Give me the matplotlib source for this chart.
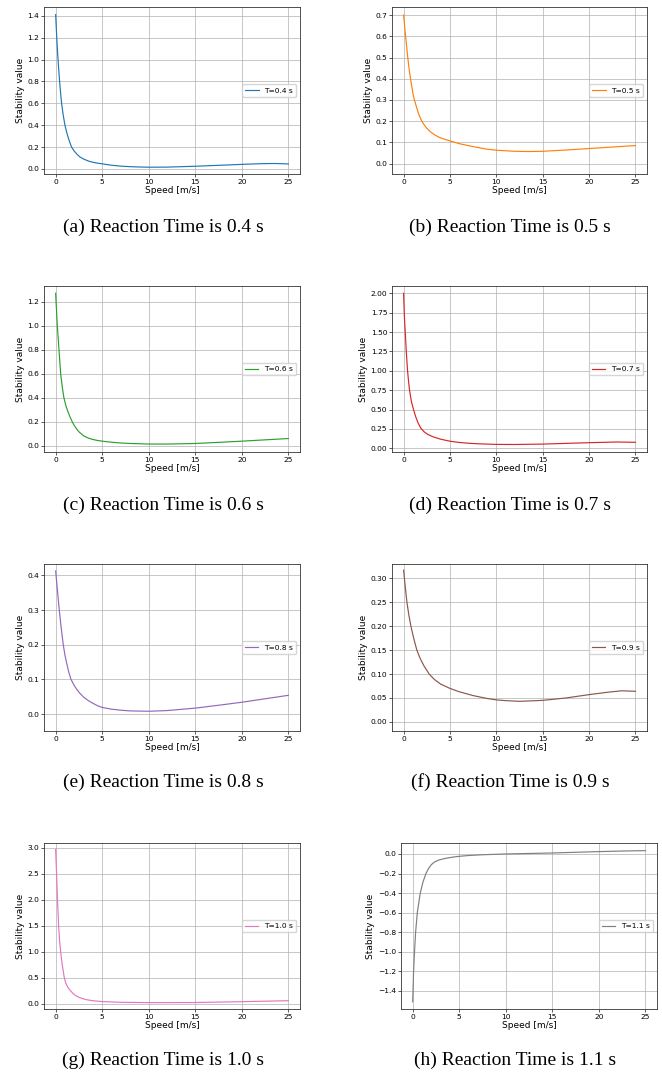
import matplotlib
matplotlib.use('Agg')
import matplotlib.pyplot as plt
import numpy as np

# speed [m/s] and stability values
speed_a = [0, 0.1, 0.2, 0.3, 0.4, 0.5, 0.64, 0.8, 1.0, 1.2, 1.45, 1.71, 2.0, 2.3, 2.6, 3.0, 3.5, 4.0, 4.5, 5.0,
           6, 7, 8, 9, 10, 12, 15, 18, 20, 22, 23.5, 25]
stab_a = [1.41, 1.235, 1.08, 0.945, 0.83, 0.725, 0.6, 0.5, 0.4, 0.33, 0.26, 0.2, 0.163, 0.134, 0.11, 0.091, 0.073,
          0.061, 0.053, 0.047, 0.034, 0.026, 0.021, 0.018, 0.016, 0.017, 0.025, 0.035, 0.042, 0.048, 0.050, 0.046]

speed_b = [0, 0.15, 0.29, 0.45, 0.61, 0.8, 1.07, 1.3, 1.6, 1.85, 2.14, 2.5, 2.86, 3.4, 3.93, 4.5, 5.0,
           6, 7.5, 9, 10, 12, 13.5, 15, 17.5, 20, 22.5, 25]
stab_b = [0.70, 0.63, 0.568, 0.50, 0.44, 0.385, 0.316, 0.28, 0.237, 0.21, 0.187, 0.167, 0.151, 0.134, 0.122, 0.114,
          0.107, 0.094, 0.08, 0.068, 0.063, 0.058, 0.057, 0.058, 0.064, 0.071, 0.078, 0.085]

speed_c = [0, 0.05, 0.1, 0.18, 0.27, 0.36, 0.45, 0.54, 0.65, 0.75, 0.89, 1.1, 1.3, 1.5, 1.79, 2.0, 2.25, 2.5,
           3.0, 3.5, 4.0, 4.5, 5.0, 6, 7, 8, 10, 12, 15, 18, 20, 22.5, 25]
stab_c = [1.27, 1.19, 1.12, 1.0, 0.9, 0.8, 0.7, 0.6, 0.53, 0.47, 0.4, 0.335, 0.29, 0.25, 0.2, 0.17, 0.142, 0.118,
          0.085, 0.066, 0.054, 0.046, 0.04, 0.031, 0.025, 0.021, 0.016, 0.016, 0.021, 0.032, 0.04, 0.051, 0.062]

speed_d = [0, 0.035, 0.07, 0.12, 0.18, 0.29, 0.36, 0.43, 0.53, 0.64, 0.85, 1.07, 1.3, 1.55, 1.86, 2.2, 2.6,
           3.2, 4.0, 5.0, 6, 7, 8, 10, 12, 15, 18, 20, 23, 25]
stab_d = [2.0, 1.87, 1.75, 1.62, 1.5, 1.25, 1.12, 1.0, 0.87, 0.75, 0.6, 0.5, 0.41, 0.33, 0.26, 0.215, 0.18,
          0.148, 0.118, 0.092, 0.076, 0.066, 0.059, 0.051, 0.05, 0.055, 0.066, 0.073, 0.082, 0.078]

speed_e = [0, 0.2, 0.39, 0.6, 0.82, 1.0, 1.2, 1.4, 1.65, 2.0, 2.3, 2.6, 3.0, 3.5, 4.0, 4.5, 5.0,
           6, 7, 8, 10, 12, 15, 18, 20, 22.5, 25]
stab_e = [0.413, 0.355, 0.3, 0.248, 0.2, 0.17, 0.145, 0.122, 0.1, 0.082, 0.07, 0.06, 0.049, 0.039, 0.031, 0.024,
          0.019, 0.014, 0.011, 0.009, 0.008, 0.01, 0.017, 0.027, 0.034, 0.044, 0.054]

speed_f = [0, 0.18, 0.36, 0.57, 0.79, 1.1, 1.43, 1.8, 2.2, 2.76, 3.3, 4.0, 5.0, 6, 7.5, 9, 10, 11, 12.5,
           15, 17.5, 20, 22, 23.5, 25]
stab_f = [0.317, 0.282, 0.25, 0.223, 0.2, 0.174, 0.15, 0.132, 0.117, 0.1, 0.089, 0.079, 0.07, 0.063, 0.055,
          0.049, 0.046, 0.0445, 0.043, 0.045, 0.05, 0.057, 0.062, 0.065, 0.064]

speed_g = [0, 0.1, 0.2, 0.32, 0.42, 0.54, 0.7, 0.93, 1.1, 1.3, 1.54, 1.9, 2.2, 2.6, 3.2, 4.0, 5.0,
           7.0, 10, 15, 20, 25]
stab_g = [2.97, 2.5, 2.0, 1.5, 1.22, 1.0, 0.76, 0.5, 0.39, 0.32, 0.26, 0.19, 0.15, 0.115, 0.08, 0.056, 0.04,
          0.026, 0.02, 0.022, 0.038, 0.057]

speed_h = [0, 0.04, 0.1, 0.2, 0.32, 0.5, 0.82, 1.1, 1.43, 1.7, 2.0, 2.33, 2.8, 3.3, 3.76, 4.4, 5.0,
           6, 7.5, 10, 12.5, 15, 17.5, 20, 22.5, 25]
stab_h = [-1.51, -1.4, -1.2, -1.0, -0.8, -0.6, -0.4, -0.29, -0.2, -0.15, -0.11, -0.083, -0.062, -0.05, -0.041,
          -0.031, -0.024, -0.016, -0.008, 0.0, 0.005, 0.01, 0.017, 0.024, 0.03, 0.034]

reaction_times = ['0.4', '0.5', '0.6', '0.7', '0.8', '0.9', '1.0', '1.1']
letters = ['a', 'b', 'c', 'd', 'e', 'f', 'g', 'h']
speeds = [speed_a, speed_b, speed_c, speed_d, speed_e, speed_f, speed_g, speed_h]
stabs = [stab_a, stab_b, stab_c, stab_d, stab_e, stab_f, stab_g, stab_h]

# y range and tick step for each panel
y_limits = [(-0.046, 1.48), (-0.049, 0.738), (-0.05, 1.33), (-0.047, 2.094),
            (-0.049, 0.433), (-0.019, 0.33), (-0.103, 3.096), (-1.584, 0.112)]
y_ticks = [(0, 1.4, 0.2), (0, 0.7, 0.1), (0, 1.2, 0.2), (0, 2.0, 0.25),
           (0, 0.4, 0.1), (0, 0.30, 0.05), (0, 3.0, 0.5), (-1.4, 0.0, 0.2)]
y_fmt = ['%.1f', '%.1f', '%.1f', '%.2f', '%.1f', '%.2f', '%.1f', '%.1f']

W, H = 662, 1074
# axes boxes in pixels
row_tb = [(7, 174), (286, 452), (564, 731), (843, 1009)]
boxes = [
    (44, 300), (392, 647),
    (44, 300), (392, 647),
    (44, 300), (392, 647),
    (44, 300), (401, 657),
]
caption_xy = [(163, 227), (510, 227), (163, 505), (510, 505),
              (163, 782), (510, 782), (163, 1060), (515, 1060)]

fig = plt.figure(figsize=(W / 100, H / 100), dpi=100)

for i in range(8):
    l, r = boxes[i]
    t, b = row_tb[i // 2]
    ax = fig.add_axes([l / W, 1 - b / H, (r - l) / W, (b - t) / H])
    ax.plot(speeds[i], stabs[i], color='C%d' % i, lw=0.85,
            label='T=%s s' % reaction_times[i])
    ax.set_xlim(-1.25, 26.25)
    ax.set_ylim(*y_limits[i])
    lo, hi, step = y_ticks[i]
    ticks = np.round(np.arange(lo, hi + step / 2, step), 6) + 0.0
    ax.set_yticks(ticks)
    labels = []
    for v in ticks:
        txt = y_fmt[i] % abs(v)
        labels.append('\u2212' + txt if v < 0 else txt)
    ax.set_yticklabels(labels)
    ax.grid(True, lw=0.5)
    ax.set_xlabel('Speed [m/s]', fontsize=6.5, labelpad=1)
    ax.set_ylabel('Stability value', fontsize=6.5, labelpad=2)
    ax.tick_params(labelsize=5.4, length=1.9, width=0.45, pad=1.5)
    for s in ax.spines.values():
        s.set_linewidth(0.6)
        s.set_color('#333333')
    ax.legend(loc='center right', fontsize=5.4, handlelength=1.8)
    cx, cy = caption_xy[i]
    fig.text(cx / W, 1 - cy / H, '(%s) Reaction Time is %s s' % (letters[i], reaction_times[i]),
             ha='center', va='center', fontsize=14, family='Liberation Serif')

fig.savefig('out.png', dpi=100)
